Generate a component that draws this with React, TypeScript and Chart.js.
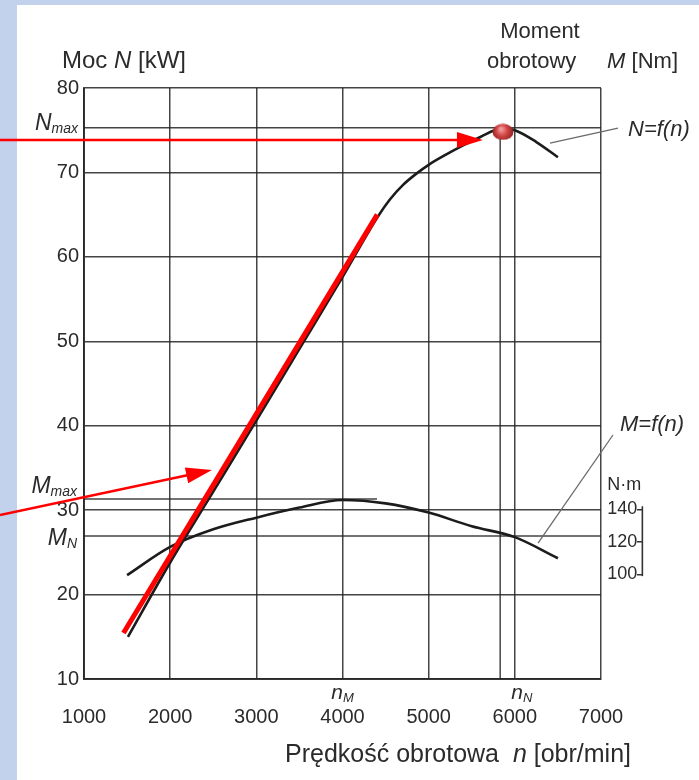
import React, { useEffect, useRef } from 'react';
import { Chart, registerables } from 'chart.js';

Chart.register(...registerables);

// ---- data ----
const rpmN = [1510, 2000, 2500, 3000, 3500, 4000, 4400, 4550, 4700, 4850, 5000, 5200, 5400, 5600, 5850, 6000, 6250, 6500];
const powerN = [15.0, 23.8, 32.2, 40.6, 49.1, 57.6, 64.6, 66.8, 68.5, 69.8, 70.9, 72.1, 73.2, 74.2, 75.2, 75.0, 73.6, 71.8];
const rpmM = [1500, 2000, 2500, 3000, 3500, 4000, 4500, 5000, 5500, 6000, 6500];
const torqueM = [99.6, 117.0, 127.8, 135.0, 141.2, 145.9, 143.8, 138.1, 129.7, 123.0, 110.0];
const tangentRpm = [1458, 4403];
const tangentPower = [15.45, 65.0];
const dotRpm = [5862];
const dotPower = [74.8];
const xTicks = [1000, 2000, 3000, 4000, 5000, 6000, 7000];
const yTicks = [10, 20, 30, 40, 50, 60, 70, 80];
const torqueTicks = [100, 120, 140];
const N_MAX = 75.3;
const M_MAX = 146.5;
const M_N = 123.7;
const RPM_NMAX = 5830;
const RPM_M = 4000;
const RPM_N = 6000;
const arrow1 = { from: [25, 73.84], to: [5630, 73.84] };
const arrow2 = { from: [25, 29.42], to: [2485, 34.75] };
const leaderN = { from: [6408, 73.48], to: [7197, 75.26] };
const leaderM = { from: [6269, 26.1], to: [7139, 38.9] };

const FF = '"Liberation Sans", Arial, Helvetica, sans-serif';
const TXT = '#2b2b2b';
const GRID = 'rgba(35,35,35,0.85)';

type Run = { t: string; f: string; dy?: number };

function drawRuns(ctx: CanvasRenderingContext2D, runs: Run[], x: number, y: number, align: 'left' | 'right' | 'center') {
  let total = 0;
  runs.forEach((r) => {
    ctx.font = r.f;
    total += ctx.measureText(r.t).width;
  });
  let cx = align === 'left' ? x : align === 'right' ? x - total : x - total / 2;
  ctx.textAlign = 'left';
  ctx.textBaseline = 'alphabetic';
  runs.forEach((r) => {
    ctx.font = r.f;
    ctx.fillText(r.t, cx, y + (r.dy || 0));
    cx += ctx.measureText(r.t).width;
  });
}

function makeDot() {
  const c = document.createElement('canvas');
  c.width = 22;
  c.height = 17;
  const g = c.getContext('2d')!;
  const grad = g.createRadialGradient(9, 5.5, 1, 11, 8.5, 11);
  grad.addColorStop(0, '#f29a9a');
  grad.addColorStop(0.45, '#d24646');
  grad.addColorStop(1, '#8e1d1d');
  g.fillStyle = grad;
  g.beginPath();
  g.ellipse(11, 8.5, 10.5, 8, 0, 0, Math.PI * 2);
  g.fill();
  return c;
}

const bgPlugin = {
  id: 'bgFrame',
  beforeDraw(chart: any) {
    const ctx = chart.ctx;
    ctx.save();
    ctx.fillStyle = '#c2d1ec';
    ctx.fillRect(0, 0, chart.width, chart.height);
    ctx.fillStyle = '#ffffff';
    ctx.fillRect(17, 5, chart.width - 17, chart.height - 5);
    ctx.restore();
  },
};

function arrow(ctx: CanvasRenderingContext2D, x1: number, y1: number, x2: number, y2: number) {
  const ang = Math.atan2(y2 - y1, x2 - x1);
  const len = 26;
  const hw = 8;
  const bx = x2 - len * Math.cos(ang);
  const by = y2 - len * Math.sin(ang);
  ctx.strokeStyle = '#ff0000';
  ctx.fillStyle = '#ff0000';
  ctx.lineWidth = 2.6;
  ctx.beginPath();
  ctx.moveTo(x1, y1);
  ctx.lineTo(bx + 2 * Math.cos(ang), by + 2 * Math.sin(ang));
  ctx.stroke();
  ctx.beginPath();
  ctx.moveTo(x2, y2);
  ctx.lineTo(bx + hw * Math.sin(ang), by - hw * Math.cos(ang));
  ctx.lineTo(bx - hw * Math.sin(ang), by + hw * Math.cos(ang));
  ctx.closePath();
  ctx.fill();
}

const annotPlugin = {
  id: 'annot',
  beforeDatasetsDraw(chart: any) {
    const { ctx, chartArea } = chart;
    const x = chart.scales.x;
    const y = chart.scales.y;
    const yM = chart.scales.yM;
    ctx.save();
    ctx.strokeStyle = GRID;
    ctx.lineWidth = 1.5;
    const h = (py: number, x1: number, x2: number) => {
      ctx.beginPath();
      ctx.moveTo(x1, py);
      ctx.lineTo(x2, py);
      ctx.stroke();
    };
    h(y.getPixelForValue(N_MAX), chartArea.left, chartArea.right);
    h(yM.getPixelForValue(M_N), chartArea.left, chartArea.right);
    h(yM.getPixelForValue(M_MAX), chartArea.left, x.getPixelForValue(4400));
    ctx.beginPath();
    ctx.moveTo(x.getPixelForValue(RPM_NMAX), chartArea.bottom);
    ctx.lineTo(x.getPixelForValue(RPM_NMAX), y.getPixelForValue(N_MAX));
    ctx.stroke();
    ctx.restore();
  },
  afterDraw(chart: any) {
    const { ctx } = chart;
    const x = chart.scales.x;
    const y = chart.scales.y;
    const yM = chart.scales.yM;
    const px = (v: number) => x.getPixelForValue(v);
    const py = (v: number) => y.getPixelForValue(v);
    ctx.save();
    // leader lines
    ctx.strokeStyle = '#6a6a6a';
    ctx.lineWidth = 1.3;
    [leaderN, leaderM].forEach((l) => {
      ctx.beginPath();
      ctx.moveTo(px(l.from[0]), py(l.from[1]));
      ctx.lineTo(px(l.to[0]), py(l.to[1]));
      ctx.stroke();
    });
    // torque bracket
    const bx = px(7480);
    ctx.strokeStyle = '#333';
    ctx.lineWidth = 1.6;
    ctx.beginPath();
    ctx.moveTo(bx, yM.getPixelForValue(142));
    ctx.lineTo(bx, yM.getPixelForValue(99));
    ctx.stroke();
    // red arrows
    [arrow1, arrow2].forEach((a) => arrow(ctx, px(a.from[0]), py(a.from[1]), px(a.to[0]), py(a.to[1])));
    // texts
    ctx.fillStyle = TXT;
    drawRuns(ctx, [
      { t: 'Moc ', f: `24px ${FF}` },
      { t: 'N', f: `italic 24px ${FF}` },
      { t: ' [kW]', f: `24px ${FF}` },
    ], 62, 68, 'left');
    drawRuns(ctx, [{ t: 'Moment', f: `22px ${FF}` }], 540, 38, 'center');
    drawRuns(ctx, [{ t: 'obrotowy', f: `22px ${FF}` }], 487, 68, 'left');
    drawRuns(ctx, [
      { t: 'M', f: `italic 22px ${FF}` },
      { t: ' [Nm]', f: `22px ${FF}` },
    ], 678, 68, 'right');
    drawRuns(ctx, [{ t: 'N=f(n)', f: `italic 22px ${FF}` }], 628, 136, 'left');
    drawRuns(ctx, [{ t: 'M=f(n)', f: `italic 22px ${FF}` }], 620, 431, 'left');
    drawRuns(ctx, [
      { t: 'N', f: `italic 23px ${FF}` },
      { t: 'max', f: `italic 14px ${FF}`, dy: 3 },
    ], 78, py(N_MAX) + 2.5, 'right');
    drawRuns(ctx, [
      { t: 'M', f: `italic 23px ${FF}` },
      { t: 'max', f: `italic 14px ${FF}`, dy: 3 },
    ], 77, yM.getPixelForValue(M_MAX) - 6, 'right');
    drawRuns(ctx, [
      { t: 'M', f: `italic 23px ${FF}` },
      { t: 'N', f: `italic 14px ${FF}`, dy: 3 },
    ], 77, yM.getPixelForValue(M_N) + 9, 'right');
    drawRuns(ctx, [
      { t: 'n', f: `italic 21px ${FF}` },
      { t: 'M', f: `italic 13px ${FF}`, dy: 3 },
    ], px(RPM_M), 699, 'center');
    drawRuns(ctx, [
      { t: 'n', f: `italic 21px ${FF}` },
      { t: 'N', f: `italic 13px ${FF}`, dy: 3 },
    ], px(RPM_N) + 7, 699, 'center');
    drawRuns(ctx, [{ t: 'N·m', f: `18px ${FF}` }], bx - 1, yM.getPixelForValue(156) + 6, 'right');
    drawRuns(ctx, [
      { t: 'Prędkość obrotowa  ', f: `25px ${FF}` },
      { t: 'n', f: `italic 25px ${FF}` },
      { t: ' [obr/min]', f: `25px ${FF}` },
    ], 285, 762, 'left');
    ctx.restore();
  },
};

export default function App() {
  const ref = useRef<HTMLCanvasElement | null>(null);
  useEffect(() => {
    document.body.style.margin = '0';
    const canvas = ref.current!;
    const dot = makeDot();
    const chart = new Chart(canvas, {
      type: 'line',
      data: {
        datasets: [
          {
            label: 'Nmax',
            data: dotRpm.map((v, i) => ({ x: v, y: dotPower[i] })),
            showLine: false,
            pointStyle: dot as any,
            pointRadius: 10,
            yAxisID: 'y',
          },
          {
            label: 'styczna',
            data: tangentRpm.map((v, i) => ({ x: v, y: tangentPower[i] })),
            borderColor: '#ff0000',
            borderWidth: 5,
            borderCapStyle: 'butt',
            pointRadius: 0,
            yAxisID: 'y',
          },
          {
            label: 'N=f(n)',
            data: rpmN.map((v, i) => ({ x: v, y: powerN[i] })),
            borderColor: '#1c1c1c',
            borderWidth: 2.6,
            pointRadius: 0,
            cubicInterpolationMode: 'monotone',
            yAxisID: 'y',
          },
          {
            label: 'M=f(n)',
            data: rpmM.map((v, i) => ({ x: v, y: torqueM[i] })),
            borderColor: '#1c1c1c',
            borderWidth: 2.6,
            pointRadius: 0,
            cubicInterpolationMode: 'monotone',
            yAxisID: 'yM',
          },
        ],
      } as any,
      options: {
        responsive: false,
        animation: false,
        devicePixelRatio: 1,
        layout: { padding: { top: 88, right: 98, left: 0, bottom: 0 } },
        plugins: { legend: { display: false }, tooltip: { enabled: false } },
        scales: {
          x: {
            type: 'linear',
            min: 1000,
            max: 7000,
            afterBuildTicks: (s: any) => {
              s.ticks = xTicks.map((v) => ({ value: v }));
            },
            afterFit: (s: any) => {
              s.height = 101;
            },
            ticks: {
              autoSkip: false,
              maxRotation: 0,
              padding: 26,
              color: TXT,
              font: { family: FF, size: 20 },
              callback: (v: any) => String(v),
            },
            grid: { color: GRID, lineWidth: 1.5, drawTicks: false },
            border: { color: GRID, width: 2 },
          },
          y: {
            type: 'linear',
            min: 10,
            max: 80,
            afterBuildTicks: (s: any) => {
              s.ticks = yTicks.map((v) => ({ value: v }));
            },
            afterFit: (s: any) => {
              s.width = 84;
            },
            ticks: {
              autoSkip: false,
              padding: 5,
              color: TXT,
              font: { family: FF, size: 20 },
            },
            grid: { color: GRID, lineWidth: 1.5, drawTicks: false },
            border: { color: GRID, width: 2 },
          },
          yM: {
            type: 'linear',
            position: { x: 7480 } as any,
            min: 35.7,
            max: 399.4,
            afterBuildTicks: (s: any) => {
              s.ticks = torqueTicks.map((v) => ({ value: v }));
            },
            ticks: {
              autoSkip: false,
              color: TXT,
              font: { family: FF, size: 18 },
              callback: (v: any) => String(v) + ' ',
            },
            grid: { drawOnChartArea: false, drawTicks: true, tickLength: 5, color: '#333', lineWidth: 1.5 },
            border: { display: false },
          },
        },
      } as any,
      plugins: [bgPlugin, annotPlugin],
    });
    return () => chart.destroy();
  }, []);
  return <canvas ref={ref} width={699} height={780} style={{ display: 'block' }} />;
}
